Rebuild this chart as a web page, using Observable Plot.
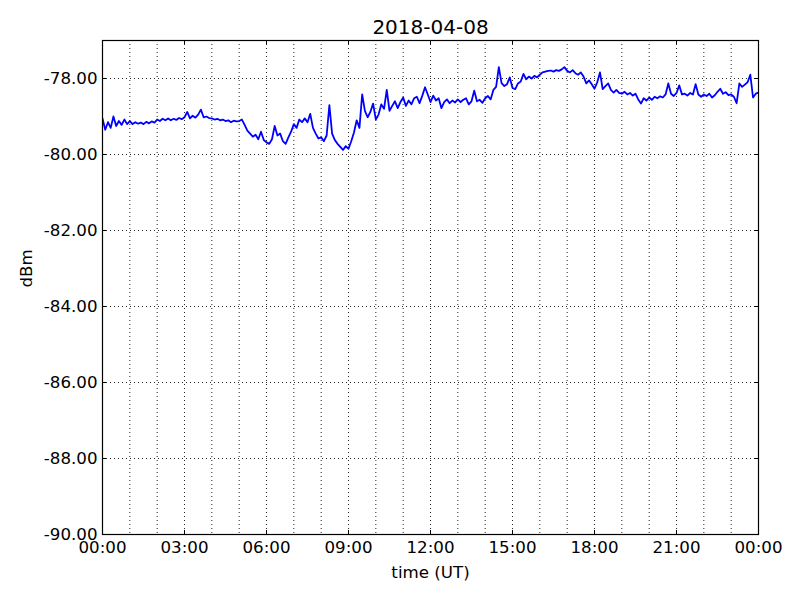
<!DOCTYPE html>
<html>
<head>
<meta charset="utf-8">
<script src="https://cdn.jsdelivr.net/npm/d3@7"></script>
<script src="https://cdn.jsdelivr.net/npm/@observablehq/plot@0.6"></script>
<style>
  html, body { margin: 0; padding: 0; background: #fff; }
  #chart { width: 800px; height: 600px; }
</style>
</head>
<body>
<div id="chart"></div>
<script>
// Chart text
const title = "2018-04-08";
const xLabel = "time (UT)";
const yLabel = "dBm";
const dayStart = Date.UTC(2018, 3, 8);

const sampleStepHours = 0.1;
const dbm = [
  // 00h
  -79.05, -79.35, -79.15, -79.30, -79.00, -79.25, -79.12, -79.22, -79.08, -79.20,
  // 01h
  -79.12, -79.20, -79.15, -79.19, -79.16, -79.20, -79.14, -79.18, -79.13, -79.16,
  // 02h
  -79.08, -79.12, -79.06, -79.10, -79.05, -79.10, -79.06, -79.09, -79.04, -79.07,
  // 03h
  -79.02, -78.88, -79.05, -78.98, -79.03, -78.95, -78.82, -79.02, -79.00, -79.04,
  // 04h
  -79.05, -79.08, -79.06, -79.10, -79.08, -79.12, -79.10, -79.15, -79.11, -79.13,
  // 05h
  -79.12, -79.08, -79.22, -79.37, -79.45, -79.53, -79.48, -79.60, -79.40, -79.62,
  // 06h
  -79.68, -79.72, -79.60, -79.25, -79.50, -79.45, -79.65, -79.72, -79.55, -79.40,
  // 07h
  -79.20, -79.30, -79.08, -79.15, -79.05, -79.15, -78.93, -79.30, -79.45, -79.58,
  // 08h
  -79.55, -79.65, -79.50, -78.70, -79.45, -79.62, -79.72, -79.80, -79.88, -79.78,
  // 09h
  -79.85, -79.65, -79.42, -79.10, -79.30, -78.42, -78.85, -79.02, -78.88, -78.66,
  // 10h
  -79.08, -78.95, -78.68, -78.80, -78.30, -78.85, -78.72, -78.60, -78.78, -78.62,
  // 11h
  -78.50, -78.72, -78.58, -78.68, -78.52, -78.48, -78.65, -78.45, -78.23, -78.42,
  // 12h
  -78.62, -78.45, -78.58, -78.52, -78.78, -78.62, -78.55, -78.65, -78.58, -78.63,
  // 13h
  -78.55, -78.62, -78.56, -78.52, -78.68, -78.60, -78.32, -78.60, -78.56, -78.64,
  // 14h
  -78.52, -78.46, -78.55, -78.30, -78.22, -77.70, -78.12, -78.20, -78.15, -77.97,
  // 15h
  -78.25, -78.28, -78.13, -78.08, -77.88, -78.02, -77.95, -78.00, -77.93, -77.97,
  // 16h
  -77.90, -77.84, -77.82, -77.80, -77.79, -77.82, -77.78, -77.80, -77.76, -77.70,
  // 17h
  -77.80, -77.84, -77.78, -77.86, -77.90, -77.84, -77.95, -78.13, -78.05, -78.15,
  // 18h
  -78.27, -78.10, -77.84, -78.28, -78.20, -78.13, -78.30, -78.37, -78.30, -78.38,
  // 19h
  -78.40, -78.35, -78.42, -78.38, -78.45, -78.40, -78.55, -78.66, -78.52, -78.58,
  // 20h
  -78.50, -78.56, -78.48, -78.52, -78.47, -78.50, -78.42, -78.13, -78.40, -78.46,
  // 21h
  -78.38, -78.18, -78.42, -78.40, -78.45, -78.38, -78.42, -78.15, -78.42, -78.48,
  // 22h
  -78.42, -78.46, -78.40, -78.50, -78.44, -78.35, -78.27, -78.40, -78.36, -78.44,
  // 23h
  -78.42, -78.48, -78.65, -78.13, -78.22, -78.16, -78.10, -77.90, -78.50, -78.40,
  // 24h
  -78.37
];

// Axis ticks
const yTicks = [-90, -88, -86, -84, -82, -80, -78];
const xMajorHours = [0, 3, 6, 9, 12, 15, 18, 21, 24];
const xGridHours = d3.range(1, 24);

const toDate = h => new Date(dayStart + h * 3600e3);
const data = dbm.map((v, i) => ({t: toDate(i * sampleStepHours), v}));
const xMajor = xMajorHours.map(toDate);
const xGrid = xGridHours.map(toDate);

const grid = {stroke: "#000", strokeWidth: 1, strokeDasharray: "1,3", strokeOpacity: 0.85};

const chart = Plot.plot({
  width: 800,
  height: 600,
  marginLeft: 102,
  marginRight: 42,
  marginTop: 40,
  marginBottom: 66,
  style: {fontFamily: "DejaVu Sans", fontSize: "16.67px", color: "#000", background: "#fff"},
  x: {type: "utc", domain: [toDate(0), toDate(24)]},
  y: {domain: [-90, -77]},
  marks: [
    Plot.ruleX(xGrid, {x: d => d, ...grid}),
    Plot.ruleY(yTicks.slice(1), {y: d => d, ...grid}),
    Plot.line(data, {x: "t", y: "v", stroke: "#0000ff", strokeWidth: 1.8, strokeLinejoin: "round", clip: true}),
    // inward ticks on all four sides
    Plot.ruleX(xMajor, {x: d => d, stroke: "#000", insetTop: 490}),
    Plot.ruleX(xMajor, {x: d => d, stroke: "#000", insetBottom: 490}),
    Plot.ruleY(yTicks, {y: d => d, stroke: "#000", insetRight: 652}),
    Plot.ruleY(yTicks, {y: d => d, stroke: "#000", insetLeft: 652}),
    Plot.frame({stroke: "#000", strokeWidth: 1.2}),
    Plot.axisX(xMajor, {tickSize: 0, tickPadding: 7, tickFormat: d3.utcFormat("%H:%M"), label: null, fontSize: 16.67}),
    Plot.axisY(yTicks, {tickSize: 0, tickPadding: 5, tickFormat: d => d.toFixed(2), label: null, fontSize: 16.67}),
    Plot.text([title], {frameAnchor: "top", dy: -13, lineAnchor: "middle", fontSize: 20, text: d => d}),
    Plot.text([xLabel], {frameAnchor: "bottom", dy: 38, lineAnchor: "middle", fontSize: 16.67, text: d => d}),
    Plot.text([yLabel], {frameAnchor: "left", dx: -76, rotate: -90, lineAnchor: "middle", fontSize: 16.67, text: d => d})
  ]
});
document.getElementById("chart").appendChild(chart);
</script>
</body>
</html>
